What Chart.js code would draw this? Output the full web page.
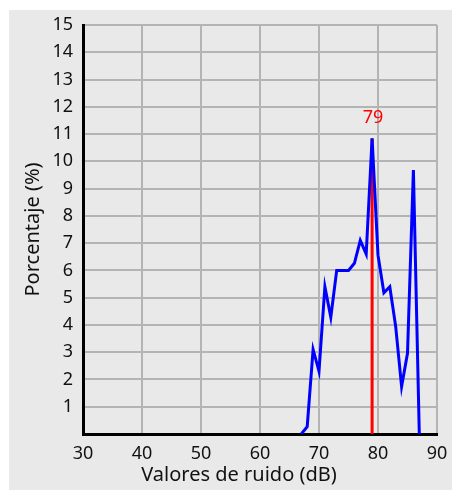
<!DOCTYPE html>
<html>
<head>
<meta charset="utf-8">
<script src="https://cdn.jsdelivr.net/npm/chart.js@4.4.1/dist/chart.umd.min.js"></script>
<style>
  html, body { margin: 0; padding: 0; background: #ffffff; }
  #panel { position: absolute; left: 9px; top: 10px; width: 443px; height: 480px; background: #e9e9e9; }
  canvas { display: block; }
</style>
</head>
<body>
<div id="panel"><canvas id="c" width="443" height="480"></canvas></div>
<script>
// Noise values (dB) and percentage of measurements
const noiseDb = [67, 68, 69, 70, 71, 72, 73, 74, 75, 76, 77, 78, 79, 80, 81, 82, 83, 84, 85, 86, 87];
const percent = [0, 0.27, 3.1, 2.3, 5.4, 4.28, 6.0, 6.0, 6.0, 6.26, 7.1, 6.6, 10.84, 6.56, 5.18, 5.4, 3.94, 1.74, 2.96, 9.68, 0];
// Marked mode value
const modeDb = 79;
const modeValue = 10.84;
// Axis ticks and titles
const xTicks = [30, 40, 50, 60, 70, 80, 90];
const yTicks = [0, 1, 2, 3, 4, 5, 6, 7, 8, 9, 10, 11, 12, 13, 14, 15];
const xTitle = 'Valores de ruido (dB)';
const yTitle = 'Porcentaje (%)';

const FONT = "'Noto Sans', 'Open Sans', sans-serif";

const labelPlugin = {
  id: 'modeLabel',
  afterDatasetsDraw(chart) {
    const ctx = chart.ctx;
    const x = chart.scales.x.getPixelForValue(modeDb);
    const y = chart.scales.y.getPixelForValue(modeValue);
    ctx.save();
    ctx.fillStyle = '#ff0000';
    ctx.font = "18px " + FONT;
    ctx.textAlign = 'center';
    ctx.textBaseline = 'middle';
    ctx.fillText(String(modeDb), x + 1, y - 21);
    // x axis title (slightly left of the plot centre, as in the original)
    const a = chart.chartArea;
    ctx.fillStyle = '#111';
    ctx.font = "20px " + FONT;
    ctx.fillText(xTitle, (a.left + a.right) / 2 - 21, chart.height - 15);
    ctx.restore();
  }
};

const zeroPad = (s) => { s.paddingTop = 0; s.paddingBottom = 0; s.paddingLeft = 0; s.paddingRight = 0; };

new Chart(document.getElementById('c'), {
  type: 'line',
  data: {
    datasets: [
      {
        data: noiseDb.map((d, i) => ({ x: d, y: percent[i] })),
        borderColor: '#0000ff',
        borderWidth: 3,
        pointRadius: 0,
        tension: 0,
        fill: false,
        order: 1
      },
      {
        data: [{ x: modeDb, y: 0 }, { x: modeDb, y: modeValue }],
        borderColor: '#ff0000',
        borderWidth: 3,
        pointRadius: 0,
        fill: false,
        order: 2
      }
    ]
  },
  options: {
    responsive: false,
    animation: false,
    layout: { padding: { top: 15, right: 15, left: 0, bottom: 0 } },
    plugins: { legend: { display: false }, tooltip: { enabled: false } },
    scales: {
      x: {
        type: 'linear',
        min: 30, max: 90,
        afterBuildTicks: (s) => { s.ticks = xTicks.map(v => ({ value: v })); },
        afterFit: (s) => { s.height = 56; zeroPad(s); },
        grid: { color: '#b4b4b4', lineWidth: 2, drawTicks: false },
        border: { color: '#000000', width: 3 },
        ticks: { color: '#111', font: { family: FONT, size: 18 }, padding: 9, maxRotation: 0 },
        title: { display: false }
      },
      y: {
        min: 0, max: 15,
        afterBuildTicks: (s) => { s.ticks = yTicks.map(v => ({ value: v })); },
        afterFit: (s) => { s.width = 74; zeroPad(s); },
        grid: { color: '#b4b4b4', lineWidth: 2, drawTicks: false },
        border: { color: '#000000', width: 3 },
        ticks: { color: '#111', font: { family: FONT, size: 18 }, padding: 10, callback: (v) => v === 0 ? '' : String(v) },
        title: { display: true, text: yTitle, color: '#111', font: { family: FONT, size: 20 }, padding: { top: 12.5, bottom: 0 } }
      }
    }
  },
  plugins: [labelPlugin]
});
</script>
</body>
</html>
